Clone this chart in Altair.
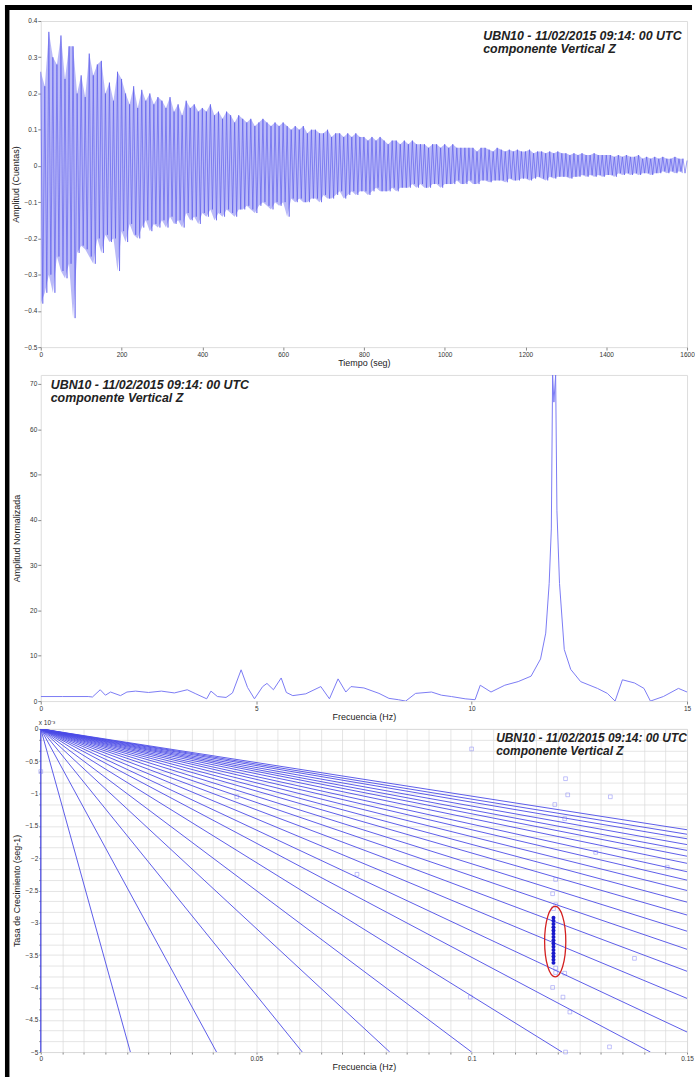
import altair as alt
import pandas as pd

W = 650
H1, H2, H3 = 328, 328, 325
FONT = "Liberation Sans"

label_line1 = "UBN10 - 11/02/2015 09:14: 00 UTC"
label_line2 = "componente Vertical Z"

# ---------------- panel 1: record (alternating peak amplitudes, every 5 s)
t_step = 5
amp_rows = [
    [0.26, -0.38, 0.22, -0.35, 0.37, -0.30, 0.30, -0.35, 0.28, -0.25, 0.36, -0.29, 0.24, -0.31, 0.33, -0.27, 0.33, -0.42, 0.20, -0.24],
    [0.25, -0.22, 0.19, -0.23, 0.31, -0.25, 0.25, -0.27, 0.28, -0.20, 0.29, -0.24, 0.20, -0.19, 0.23, -0.21, 0.18, -0.20, 0.26, -0.29],
    [0.24, -0.18, 0.20, -0.21, 0.17, -0.16, 0.22, -0.19, 0.16, -0.20, 0.21, -0.17, 0.18, -0.15, 0.20, -0.18, 0.17, -0.16, 0.19, -0.17],
    [0.18, -0.15, 0.16, -0.17, 0.19, -0.14, 0.15, -0.16, 0.17, -0.15, 0.14, -0.17, 0.18, -0.13, 0.16, -0.15, 0.17, -0.14, 0.15, -0.16],
    [0.16, -0.13, 0.15, -0.14, 0.17, -0.12, 0.14, -0.15, 0.15, -0.13, 0.13, -0.14, 0.15, -0.12, 0.14, -0.13, 0.12, -0.14, 0.14, -0.12],
    [0.13, -0.12, 0.12, -0.11, 0.13, -0.12, 0.11, -0.13, 0.12, -0.11, 0.13, -0.10, 0.12, -0.11, 0.11, -0.12, 0.12, -0.10, 0.11, -0.11],
    [0.12, -0.10, 0.11, -0.14, 0.10, -0.09, 0.11, -0.10, 0.10, -0.09, 0.11, -0.10, 0.09, -0.10, 0.10, -0.09, 0.10, -0.09, 0.09, -0.10],
    [0.09, -0.08, 0.10, -0.09, 0.08, -0.09, 0.09, -0.08, 0.09, -0.07, 0.08, -0.09, 0.09, -0.08, 0.08, -0.07, 0.09, -0.08, 0.08, -0.07],
    [0.08, -0.07, 0.07, -0.08, 0.08, -0.07, 0.07, -0.06, 0.08, -0.07, 0.07, -0.07, 0.06, -0.07, 0.07, -0.06, 0.07, -0.07, 0.06, -0.06],
    [0.07, -0.06, 0.06, -0.06, 0.07, -0.05, 0.06, -0.06, 0.06, -0.05, 0.06, -0.06, 0.05, -0.06, 0.06, -0.05, 0.06, -0.05, 0.05, -0.06],
    [0.06, -0.05, 0.05, -0.05, 0.06, -0.05, 0.05, -0.04, 0.05, -0.05, 0.05, -0.05, 0.05, -0.04, 0.05, -0.05, 0.04, -0.05, 0.05, -0.04],
    [0.05, -0.04, 0.045, -0.045, 0.04, -0.04, 0.05, -0.04, 0.045, -0.04, 0.04, -0.045, 0.045, -0.035, 0.04, -0.04, 0.045, -0.04, 0.04, -0.035],
    [0.04, -0.035, 0.045, -0.04, 0.035, -0.035, 0.04, -0.03, 0.04, -0.035, 0.035, -0.04, 0.04, -0.03, 0.035, -0.035, 0.04, -0.03, 0.035, -0.03],
    [0.035, -0.03, 0.03, -0.035, 0.035, -0.03, 0.03, -0.03, 0.035, -0.025, 0.03, -0.03, 0.03, -0.025, 0.035, -0.03, 0.03, -0.025, 0.03, -0.03],
    [0.03, -0.025, 0.03, -0.025, 0.025, -0.03, 0.03, -0.02, 0.025, -0.025, 0.03, -0.02, 0.025, -0.025, 0.025, -0.02, 0.03, -0.025, 0.02, -0.02],
    [0.025, -0.02, 0.02, -0.025, 0.025, -0.02, 0.02, -0.02, 0.025, -0.015, 0.02, -0.02, 0.02, -0.015, 0.025, -0.02, 0.02, -0.015, 0.02, -0.02],
    [0.015],
]
amp_counts = [v for row in amp_rows for v in row]
time_s = [i * t_step for i in range(len(amp_counts))]

# ---------------- panel 2: normalised spectrum
freq_hz = [0, 0.5, 1.1, 1.2, 1.38, 1.5, 1.62, 1.85, 2.0, 2.2, 2.5, 2.8, 3.1, 3.4, 3.6, 3.85, 3.95,
           4.1, 4.3, 4.45, 4.65, 4.8, 4.96, 5.15, 5.25, 5.4, 5.58, 5.7, 5.85, 6.15, 6.5, 6.7, 6.9,
           7.08, 7.2, 7.5, 7.85, 8.08, 8.3, 8.47, 8.7, 9.07, 9.3, 9.53, 9.85, 10.08, 10.2, 10.45,
           10.77, 11.08, 11.38, 11.6, 11.72, 11.8, 11.85, 11.88, 11.91, 11.95, 11.98, 12.04, 12.15,
           12.3, 12.53, 12.92, 13.15, 13.33, 13.5, 13.78, 14.0, 14.15, 14.45, 14.8, 15.0]
amp_norm = [1, 1, 1, 0.9, 2.5, 1.3, 2.0, 1.2, 2.0, 2.2, 1.9, 2.2, 1.8, 2.5, 1.6, 0.5, 2.2,
            1.0, 0.8, 1.8, 6.9, 3.0, 0.5, 3.2, 3.9, 2.5, 5.1, 1.9, 1.2, 1.6, 3.2, 0.5, 4.9,
            2.0, 3.2, 2.9, 1.7, 0.6, 0.3, 0.0, 1.7, 2.0, 1.3, 1.0, 0.5, 0.3, 3.5, 2.0,
            3.5, 4.3, 5.5, 9.3, 15, 26, 38, 72, 66, 72, 42, 26, 11.4,
            7, 4.3, 2.8, 1.7, 0, 4.7, 4.0, 2.8, 0, 1.0, 2.8, 2.0]

# ---------------- panel 3: growth rate vs frequency (x 1e-3 s^-1)
scatter_f = [0.0, 0.1, 0.0455, 0.1218, 0.1223, 0.1322, 0.1193, 0.1216, 0.0734, 0.1288, 0.1454,
             0.1195, 0.1188, 0.1195, 0.1378, 0.1195, 0.1216, 0.1188, 0.1212, 0.1228, 0.0997,
             0.1218, 0.132, 0.119, 0.1195]
scatter_g = [-0.66, -0.31, -1.05, -0.77, -1.02, -1.05, -1.17, -1.39, -2.25, -1.91, -2.14,
             -2.33, -2.55, -2.72, -3.55, -3.77, -3.78, -4.0, -4.15, -4.38, -4.15,
             -5.0, -4.92, -2.78, -3.7]
cluster_f = 0.119
cluster_g = [-2.92, -2.97, -3.02, -3.07, -3.12, -3.17, -3.22, -3.27, -3.32, -3.37, -3.42,
             -3.47, -3.52, -3.57, -3.62]
ellipse_f = [0.1194]
ellipse_g = [-3.29]
# reference lines from the origin: ends on the bottom edge (g = -5) ...
line_end_bottom_f = [0.0208, 0.0408, 0.0607, 0.081, 0.100, 0.121, 0.1415]
# ... and ends on the right edge (f = 0.15)
line_end_right_g = [-4.69, -4.17, -3.75, -3.41, -3.13, -2.88, -2.68, -2.50, -2.34, -2.21,
                    -2.08, -1.97, -1.88, -1.79, -1.70, -1.63, -1.56]

# ---------------- dataframes
df1 = pd.DataFrame({"t": time_s, "a": amp_counts})
band = pd.DataFrame({
    "t": [time_s[i] for i in range(0, len(amp_counts) - 1, 2)],
    "a": [amp_counts[i] for i in range(0, len(amp_counts) - 1, 2)],
    "lo": [amp_counts[i + 1] for i in range(0, len(amp_counts) - 1, 2)],
})
df2 = pd.DataFrame({"f": freq_hz, "a": amp_norm})
rows = []
k = 0
for fe in line_end_bottom_f:
    rows += [{"id": k, "f": 0.0, "g": 0.0}, {"id": k, "f": fe, "g": -5.0}]
    k += 1
for ge in line_end_right_g:
    rows += [{"id": k, "f": 0.0, "g": 0.0}, {"id": k, "f": 0.15, "g": ge}]
    k += 1
df3_lines = pd.DataFrame(rows)
df3_pts = pd.DataFrame({"f": scatter_f, "g": scatter_g})
df3_cl = pd.DataFrame({"f": [cluster_f] * len(cluster_g), "g": cluster_g})
df3_el = pd.DataFrame({"f": ellipse_f, "g": ellipse_g})
df3_v = pd.DataFrame({"f": [0.0], "g": [0.0], "g2": [-5.0]})
one = pd.DataFrame({"k": [0]})


def ax(**kw):
    base = dict(labelFontSize=6.5, labelColor="#333333", titleFontSize=9,
                titleFontWeight="normal", titleColor="#222222", tickSize=3,
                tickColor="#888888", domain=False, grid=False, labelPadding=1,
                titlePadding=1, labelFlush=False, labelOverlap=False, labelBound=False)
    base.update(kw)
    return alt.Axis(**base)


def annot(x, y1, y2, size):
    out = []
    for txt, yy in ((label_line1, y1), (label_line2, y2)):
        out.append(alt.Chart(one).mark_text(
            text=txt, font=FONT, fontSize=size, fontWeight="bold", fontStyle="italic",
            align="left", baseline="middle", color="#222222").encode(
            x=alt.value(x), y=alt.value(yy)))
    return out


# ---------------- panel 1
x1 = alt.X("t:Q", scale=alt.Scale(domain=[0, 1600], nice=False),
           axis=ax(values=list(range(0, 1601, 200)), format="d", title="Tiempo (seg)"))
y1 = alt.Y("a:Q", scale=alt.Scale(domain=[-0.5, 0.4], nice=False),
           axis=ax(values=[round(-0.5 + 0.1 * i, 1) for i in range(10)], format=".1~f",
                   title="Amplitud (Cuentas)", titlePadding=4))
band_mark = alt.Chart(band).mark_area(color="#a9a9f6", opacity=0.8, interpolate="linear").encode(
    x=x1, y=y1, y2="lo:Q")
wave = alt.Chart(df1).mark_line(color="#5454ea", strokeWidth=0.6).encode(x=x1, y=y1)
frame_left = alt.Chart(one).mark_rect(color="black").encode(
    x=alt.value(-36), x2=alt.value(-31.5), y=alt.value(-16), y2=alt.value(1062))
frame_top = alt.Chart(one).mark_rect(color="black").encode(
    x=alt.value(-36), x2=alt.value(655), y=alt.value(-16), y2=alt.value(-11))
p1 = alt.layer(band_mark, wave, *annot(445, 15.5, 28.5, 12.5), frame_left, frame_top).properties(
    width=W, height=H1)

# ---------------- panel 2
x2 = alt.X("f:Q", scale=alt.Scale(domain=[0, 15], nice=False),
           axis=ax(values=[0, 5, 10, 15], title="Frecuencia (Hz)"))
y2 = alt.Y("a:Q", scale=alt.Scale(domain=[0, 72], nice=False),
           axis=ax(values=list(range(0, 71, 10)), title="Amplitud Normalizada", titlePadding=8))
spec = alt.Chart(df2).mark_line(color="#7b7bf4", strokeWidth=1, clip=True).encode(x=x2, y=y2)
p2 = alt.layer(spec, *annot(10, 10, 23.5, 12.5)).properties(width=W, height=H2)

# ---------------- panel 3
xgrid = [round(0.005 * i, 3) for i in range(31)]
ygrid = [-i / 6 for i in range(31)]
x3 = alt.X("f:Q", scale=alt.Scale(domain=[0, 0.15], nice=False),
           axis=ax(values=xgrid, grid=True, gridColor="#d9d9d9", gridWidth=0.7, tickSize=2,
                   labelExpr="abs(datum.value*20 - round(datum.value*20)) < 1e-6 ? format(datum.value, '~g') : ''",
                   title="Frecuencia (Hz)"))
y3 = alt.Y("g:Q", scale=alt.Scale(domain=[-5, 0], nice=False),
           axis=ax(values=ygrid, grid=True, gridColor="#d9d9d9", gridWidth=0.7, tickSize=2,
                   labelExpr="abs(datum.value*2 - round(datum.value*2)) < 1e-6 ? format(datum.value, '~g') : ''",
                   title="Tasa de Crecimiento (seg-1)", titlePadding=4))
qlines = alt.Chart(df3_lines).mark_line(color="#4b4be6", strokeWidth=0.9, clip=True).encode(
    x=x3, y=y3, detail="id:N")
vline = alt.Chart(df3_v).mark_rule(color="#4b4be6", strokeWidth=1.2).encode(x=x3, y=y3, y2="g2:Q")
pts = alt.Chart(df3_pts).mark_point(shape="square", size=14, color="#6f6ff5", strokeWidth=0.6,
                                    filled=False).encode(x=x3, y=y3)
cl = alt.Chart(df3_cl).mark_point(shape="circle", size=16, color="#1a1acc", filled=True,
                                  opacity=1).encode(x=x3, y=y3)
ell = alt.Chart(df3_el).mark_point(
    shape="M0,-1 A0.3,1 0 1,1 0,1 A0.3,1 0 1,1 0,-1 Z", size=5041, filled=False,
    color="#d42020", strokeWidth=1.3, opacity=1).encode(x=x3, y=y3)
expo = alt.Chart(one).mark_text(text="x 10\u207b\u00b3", font=FONT, fontSize=6.5, align="left",
                                baseline="middle", color="#333333").encode(
    x=alt.value(-2), y=alt.value(-6))
p3 = alt.layer(qlines, vline, pts, cl, ell, *annot(458, 9.5, 22.5, 12), expo).properties(
    width=W, height=H3)

chart = alt.VConcatChart(vconcat=[p1, p2, p3], spacing=28, bounds="flush").properties(
    padding={"left": 4, "top": 1, "right": 0, "bottom": 0}
).configure_view(stroke="#8c8c8c", strokeWidth=1).configure(font=FONT, background="white")

chart.save("out.html", embed_options={"renderer": "svg", "actions": False})
